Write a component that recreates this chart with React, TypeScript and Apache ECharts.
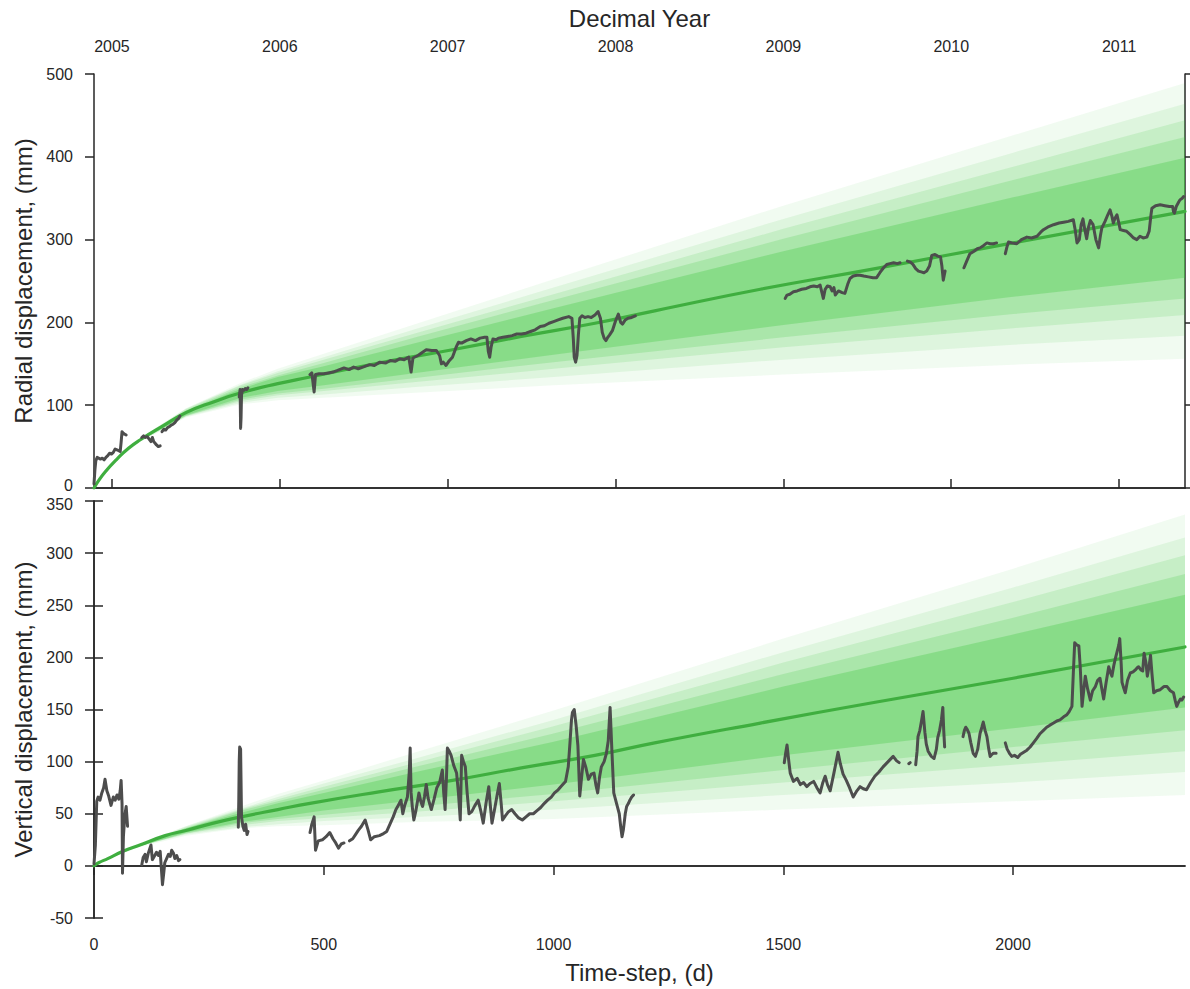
import { useEffect, useRef } from 'react';
import * as echarts from 'echarts';

// ---------- axes ----------
const START_YEAR = 2004.893; // decimal year of time-step 0
const DAY_MAX = 2374;
const yearTicks = [2005, 2006, 2007, 2008, 2009, 2010, 2011];
const dayTicks = [0, 500, 1000, 1500, 2000];

// ---------- model mean curves ----------
const radialMeanT = [0, 10, 25, 50, 75, 100, 150, 200, 260, 320, 400, 470, 620, 780, 930, 1090, 1220, 1450, 1700, 2000, 2374];
const radialMean = [0, 9, 20, 35, 48, 58, 75, 91, 104, 115, 126, 134, 151, 167, 183, 199, 214, 240, 265, 296, 334];
const verticalMeanT = [0, 10, 30, 63, 100, 155, 200, 260, 320, 400, 470, 620, 780, 930, 1090, 1220, 1450, 1700, 2000, 2374];
const verticalMean = [0, 3, 7, 14, 20, 29, 34, 41, 47, 54, 60, 71, 82, 94, 106, 118, 137, 157, 180, 210];

// ---------- ensemble envelopes (outer -> core) ----------
const fanT = [0, 50, 100, 200, 320, 400, 500, 700, 1000, 1500, 2000, 2374];
const radialB1U = [0, 36, 60, 96, 127, 144, 162, 198, 252, 341, 426, 489];
const radialB1L = [0, 34, 56, 85, 101, 106, 109, 115, 124, 137, 149, 156];
const radialB2U = [0, 36, 60, 96, 125, 141, 158, 192, 242, 325, 405, 464];
const radialB2L = [0, 34, 56, 86, 103, 109, 113, 122, 134, 155, 173, 184];
const radialB3U = [0, 36, 59, 95, 124, 139, 155, 187, 234, 313, 388, 444];
const radialB3L = [0, 34, 57, 87, 105, 112, 117, 128, 144, 170, 193, 209];
const radialB4U = [0, 35, 59, 94, 122, 136, 151, 182, 227, 301, 372, 424];
const radialB4L = [0, 35, 57, 87, 107, 114, 120, 133, 152, 182, 210, 229];
const radialB5U = [0, 35, 59, 93, 120, 134, 147, 175, 217, 286, 351, 399];
const radialB5L = [0, 35, 57, 88, 109, 117, 124, 139, 161, 197, 231, 254];

const verticalB1U = [0, 12, 22, 38, 57, 69, 82, 109, 149, 218, 285, 337];
const verticalB1L = [0, 10, 18, 29, 36, 38, 39, 42, 45, 54, 62, 68];
const verticalB2U = [0, 12, 21, 38, 55, 66, 79, 103, 140, 205, 267, 315];
const verticalB2L = [0, 10, 19, 30, 37, 40, 43, 47, 54, 68, 80, 90];
const verticalB3U = [0, 11, 21, 37, 54, 64, 76, 99, 134, 195, 253, 298];
const verticalB3L = [0, 11, 19, 31, 39, 43, 46, 52, 62, 80, 97, 110];
const verticalB4U = [0, 11, 21, 36, 53, 62, 73, 95, 127, 184, 238, 280];
const verticalB4L = [0, 11, 19, 31, 41, 45, 49, 57, 69, 92, 114, 130];
const verticalB5U = [0, 11, 21, 36, 51, 60, 70, 90, 119, 172, 222, 260];
const verticalB5L = [0, 11, 19, 32, 42, 47, 53, 63, 78, 106, 132, 152];

const bandAlphas = [0.07, 0.1, 0.15, 0.2, 0.3];

// ---------- observed radial displacement (segments separated by gaps) ----------
const radialObs: number[][][] = [
  [[0, 5], [2, 22], [4, 33], [7, 37], [10, 36], [14, 35], [18, 36], [22, 34], [26, 37], [30, 39], [34, 42], [38, 41], [42, 43], [46, 47], [50, 46], [54, 45], [57, 44], [59, 55], [61, 68], [64, 66], [67, 65], [70, 64]],
  [[104, 61], [108, 63], [112, 61], [116, 62], [120, 59], [124, 56], [127, 61], [130, 56], [133, 54], [136, 52], [140, 50], [144, 51]],
  [[148, 68], [152, 71], [156, 70], [160, 73], [164, 74], [168, 76], [172, 77], [176, 79], [180, 82], [184, 84], [187, 87]],
  [[316, 110], [318, 119], [319, 72], [320, 85], [321, 112], [323, 119], [326, 118], [329, 120], [332, 119], [335, 121]],
  [[470, 137], [474, 139], [479, 116], [482, 137], [490, 138], [500, 138], [510, 139], [520, 140], [530, 142], [544, 145], [555, 143], [565, 146], [575, 144], [585, 146], [600, 149], [610, 148], [622, 152], [635, 151], [645, 154], [655, 153], [665, 156], [675, 155], [685, 158], [690, 140], [694, 157], [705, 160], [715, 164], [723, 167], [735, 166], [745, 166], [752, 160], [756, 150], [760, 152], [766, 148], [772, 153], [780, 158], [788, 170], [793, 176], [800, 175], [810, 178], [820, 180], [830, 178], [840, 181], [850, 182], [855, 182], [858, 165], [861, 158], [864, 170], [868, 180], [875, 179], [880, 181], [890, 182], [900, 183], [910, 184], [920, 186], [930, 186], [940, 187], [950, 189], [960, 191], [971, 195], [980, 196], [990, 199], [1000, 201], [1010, 203], [1020, 205], [1033, 207], [1040, 205], [1043, 180], [1045, 158], [1048, 152], [1051, 160], [1054, 185], [1057, 205], [1062, 208], [1068, 206], [1075, 207], [1082, 206], [1090, 209], [1097, 213], [1102, 205], [1106, 188], [1110, 181], [1114, 178], [1118, 182], [1122, 185], [1128, 190], [1135, 202], [1141, 210], [1146, 200], [1150, 198], [1156, 203], [1162, 205], [1170, 206], [1178, 208]],
  [[1504, 229], [1508, 233], [1514, 234], [1522, 237], [1530, 238], [1540, 240], [1550, 241], [1558, 243], [1566, 244], [1574, 243], [1580, 245], [1584, 236], [1587, 229], [1591, 240], [1596, 244], [1602, 243], [1606, 238], [1610, 242], [1613, 233], [1620, 238], [1628, 236], [1634, 235], [1640, 246], [1645, 253], [1652, 256], [1660, 257], [1667, 257], [1675, 256], [1685, 255], [1695, 254], [1703, 254], [1710, 260], [1718, 266], [1725, 270], [1732, 271], [1740, 272], [1748, 271], [1754, 272]],
  [[1770, 274], [1776, 273], [1782, 270], [1788, 265], [1794, 262], [1800, 261], [1806, 260], [1812, 262], [1818, 268], [1823, 281], [1830, 282], [1836, 280], [1842, 279], [1845, 268], [1848, 251], [1852, 262]],
  [[1893, 266], [1899, 274], [1906, 283], [1915, 286], [1922, 289], [1928, 290], [1936, 293], [1943, 296], [1950, 295], [1957, 295], [1964, 296]],
  [[1983, 283], [1987, 292], [1990, 297], [1998, 296], [2008, 295], [2018, 300], [2030, 303], [2040, 302], [2052, 304], [2060, 309], [2066, 312], [2075, 315], [2088, 318], [2100, 320], [2110, 321], [2120, 322], [2131, 324], [2135, 312], [2139, 296], [2144, 300], [2148, 318], [2152, 325], [2156, 312], [2160, 301], [2164, 315], [2168, 323], [2174, 318], [2180, 300], [2186, 290], [2190, 305], [2193, 314], [2200, 322], [2206, 330], [2211, 336], [2215, 328], [2218, 320], [2222, 326], [2226, 330], [2230, 320], [2233, 312], [2240, 311], [2247, 310], [2255, 306], [2262, 302], [2269, 300], [2276, 304], [2283, 302], [2291, 303], [2296, 310], [2300, 330], [2302, 338], [2310, 341], [2320, 342], [2330, 341], [2340, 340], [2347, 340], [2349, 334], [2351, 332], [2355, 340], [2360, 345], [2363, 348], [2368, 350], [2371, 352]],
];

// ---------- observed vertical displacement ----------
const verticalObs: number[][][] = [
  [[0, 2], [3, 20], [6, 62], [9, 66], [13, 63], [17, 70], [21, 75], [24, 83], [28, 72], [32, 67], [37, 58], [42, 66], [46, 63], [50, 68], [54, 64], [57, 72], [59, 82], [61, 60], [62, -7], [64, 28], [67, 48], [70, 57], [73, 38]],
  [[104, 1], [107, 8], [111, 11], [114, 4], [118, 12], [121, 16], [124, 20], [127, 6], [131, 9], [136, 13], [140, 10], [144, 14], [149, -18], [152, -6], [154, 3], [158, 7], [162, 11], [166, 9], [169, 15], [173, 12], [176, 7], [180, 10], [184, 5], [187, 6]],
  [[314, 37], [315, 62], [316, 100], [317, 114], [319, 112], [320, 80], [321, 47], [324, 38], [327, 34], [330, 40], [333, 30], [335, 33]],
  [[470, 32], [474, 40], [479, 47], [482, 15], [488, 24], [497, 25], [505, 28], [513, 32], [520, 26], [526, 22], [532, 17], [538, 21], [544, 22]],
  [[556, 24], [563, 26], [569, 30], [575, 34], [582, 38], [590, 44], [596, 35], [602, 25], [610, 28], [621, 29], [630, 31], [637, 33], [645, 41], [651, 47], [657, 54], [662, 58], [668, 63], [672, 50], [676, 58], [682, 66], [686, 90], [688, 113], [690, 70], [693, 55], [696, 44], [700, 52], [707, 70], [711, 62], [715, 57], [719, 66], [723, 78], [727, 65], [734, 54], [740, 64], [746, 75], [752, 80], [758, 92], [761, 70], [764, 54], [767, 85], [769, 113], [773, 110], [777, 106], [783, 96], [789, 89], [793, 70], [797, 44], [800, 106], [804, 100], [808, 95], [812, 70], [816, 50], [822, 52], [829, 58], [836, 63], [842, 52], [847, 41], [853, 60], [859, 76], [862, 60], [866, 41], [872, 55], [878, 70], [882, 79], [886, 60], [889, 44], [895, 48], [902, 52], [909, 54], [916, 50], [924, 46], [932, 44], [940, 47], [948, 50], [956, 50], [964, 53], [972, 56], [980, 60], [987, 63], [995, 66], [1002, 70], [1010, 73], [1018, 77], [1026, 81], [1032, 95], [1036, 120], [1039, 140], [1041, 147], [1045, 150], [1049, 135], [1053, 115], [1057, 67], [1061, 85], [1065, 102], [1070, 95], [1076, 83], [1082, 88], [1088, 89], [1092, 78], [1096, 70], [1100, 85], [1104, 95], [1110, 100], [1115, 108], [1119, 120], [1123, 152], [1127, 110], [1131, 70], [1137, 60], [1143, 50], [1146, 38], [1149, 28], [1152, 35], [1156, 50], [1159, 57], [1163, 60], [1166, 63], [1170, 66], [1174, 68]],
  [[1502, 99], [1505, 108], [1508, 116], [1512, 100], [1515, 89], [1522, 81], [1530, 84], [1537, 78], [1544, 80], [1551, 76], [1558, 79], [1566, 81], [1573, 75], [1580, 70], [1586, 80], [1591, 86], [1596, 78], [1602, 72], [1610, 89], [1615, 100], [1619, 109], [1624, 98], [1630, 88], [1637, 82], [1644, 75], [1652, 66], [1660, 72], [1667, 76], [1674, 74], [1681, 73], [1690, 80], [1699, 86], [1708, 90], [1717, 95], [1728, 100], [1739, 105], [1746, 101], [1752, 99]],
  [[1773, 98], [1776, 99]],
  [[1788, 97], [1791, 110], [1793, 124], [1797, 130], [1801, 140], [1804, 148], [1808, 128], [1811, 117], [1815, 110], [1822, 105], [1828, 103], [1833, 112], [1836, 123], [1840, 130], [1844, 140], [1847, 152], [1849, 130], [1851, 114]],
  [[1891, 124], [1894, 130], [1897, 133], [1900, 131], [1904, 127], [1908, 118], [1913, 108], [1918, 105], [1923, 112], [1928, 127], [1932, 133], [1935, 138], [1939, 130], [1943, 124], [1947, 112], [1950, 105], [1954, 107], [1957, 108], [1963, 108]],
  [[1983, 118], [1987, 112], [1992, 108], [1997, 105], [2003, 106], [2010, 104], [2016, 107], [2023, 109], [2030, 111], [2037, 114], [2044, 118], [2051, 122], [2059, 127], [2066, 130], [2073, 133], [2080, 135], [2088, 137], [2095, 139], [2102, 140], [2110, 143], [2117, 145], [2122, 148], [2128, 153], [2131, 185], [2134, 214], [2138, 212], [2143, 211], [2146, 191], [2150, 153], [2154, 170], [2157, 182], [2162, 170], [2168, 159], [2173, 168], [2179, 172], [2184, 178], [2189, 180], [2193, 170], [2197, 160], [2202, 175], [2208, 191], [2212, 185], [2215, 182], [2219, 192], [2222, 198], [2226, 205], [2230, 212], [2232, 218], [2235, 195], [2237, 176], [2241, 170], [2244, 166], [2249, 178], [2255, 185], [2261, 186], [2266, 188], [2270, 190], [2273, 191], [2278, 188], [2282, 187], [2285, 204], [2289, 195], [2292, 182], [2296, 192], [2299, 202], [2302, 185], [2306, 166], [2312, 168], [2320, 169], [2328, 172], [2335, 172], [2342, 168], [2349, 166], [2353, 158], [2356, 153], [2360, 157], [2364, 160], [2367, 159], [2371, 162]],
];

// ---------- styling ----------
const INK = '#262626';
const FONT = 'Liberation Sans, Arial, Helvetica, sans-serif';
const FAN_RGB = '60,200,60';
const MEAN_COLOR = '#3fae3f';
const OBS_COLOR = '#4d4d4d';

function bandSeries(xi: number, yi: number, upper: number[], lower: number[], alpha: number) {
  return {
    type: 'custom',
    xAxisIndex: xi,
    yAxisIndex: yi,
    silent: true,
    clip: true,
    z: 1,
    data: [[fanT[0], upper[0]]],
    renderItem: (_params: any, api: any) => {
      const pts: number[][] = [];
      for (let i = 0; i < fanT.length; i++) pts.push(api.coord([fanT[i], upper[i]]));
      for (let i = fanT.length - 1; i >= 0; i--) pts.push(api.coord([fanT[i], lower[i]]));
      return {
        type: 'polygon',
        shape: { points: pts },
        style: { fill: `rgba(${FAN_RGB},${alpha})`, stroke: 'none' },
      };
    },
  };
}

function lineSeries(xi: number, yi: number, data: number[][], color: string, width: number, z: number, smooth = false) {
  return {
    type: 'line',
    xAxisIndex: xi,
    yAxisIndex: yi,
    data,
    symbol: 'none',
    showSymbol: false,
    smooth,
    silent: true,
    z,
    lineStyle: { color, width, cap: 'round', join: 'round' },
  };
}

const zip = (t: number[], v: number[]) => t.map((x, i) => [x, v[i]]);

const axisLine = { show: true, lineStyle: { color: INK, width: 1.5 } };
const tickStyle = { show: true, length: 9, inside: false, lineStyle: { color: INK, width: 1.5 } };
const labelStyle = { color: INK, fontSize: 16, fontFamily: FONT, lineHeight: 12 };
const nameStyle = { color: INK, fontSize: 24, fontFamily: FONT };

// the top panel's lowest label and the bottom panel's highest label sit close together:
// nudge them apart slightly via rich-text padding
const richNudge = {
  up: { color: INK, fontSize: 16, fontFamily: FONT, lineHeight: 12, padding: [0, 0, 6, 0] },
  down: { color: INK, fontSize: 16, fontFamily: FONT, lineHeight: 12, padding: [6, 0, 0, 0] },
};

function buildOption() {
  const radialBands = [
    [radialB1U, radialB1L], [radialB2U, radialB2L], [radialB3U, radialB3L], [radialB4U, radialB4L], [radialB5U, radialB5L],
  ];
  const verticalBands = [
    [verticalB1U, verticalB1L], [verticalB2U, verticalB2L], [verticalB3U, verticalB3L], [verticalB4U, verticalB4L], [verticalB5U, verticalB5L],
  ];
  const series: any[] = [];
  radialBands.forEach(([u, l], i) => series.push(bandSeries(0, 0, u, l, bandAlphas[i])));
  verticalBands.forEach(([u, l], i) => series.push(bandSeries(2, 2, u, l, bandAlphas[i])));
  series.push(lineSeries(0, 0, zip(radialMeanT, radialMean), MEAN_COLOR, 3.2, 3, true));
  series.push(lineSeries(2, 2, zip(verticalMeanT, verticalMean), MEAN_COLOR, 3.2, 3, true));
  radialObs.forEach((seg) => series.push(lineSeries(0, 0, seg, OBS_COLOR, 3, 5)));
  verticalObs.forEach((seg) => series.push(lineSeries(2, 2, seg, OBS_COLOR, 3, 5)));

  return {
    animation: false,
    backgroundColor: '#ffffff',
    textStyle: { fontFamily: FONT },
    grid: [
      { left: 94, top: 74, width: 1091, height: 414 },
      { left: 94, top: 501, width: 1091, height: 417 },
    ],
    xAxis: [
      {
        gridIndex: 0, type: 'value', min: 0, max: DAY_MAX, position: 'bottom',
        axisLine, axisTick: { show: false }, axisLabel: { show: false }, splitLine: { show: false },
      },
      {
        gridIndex: 0, type: 'value', position: 'top',
        min: START_YEAR, max: START_YEAR + DAY_MAX / 365.25,
        name: 'Decimal Year', nameLocation: 'middle', nameGap: 44, nameTextStyle: nameStyle,
        axisLine,
        axisTick: { ...tickStyle, customValues: yearTicks },
        axisLabel: { ...labelStyle, customValues: yearTicks, margin: 22, formatter: (v: number) => String(Math.round(v)) },
        splitLine: { show: false },
      },
      {
        gridIndex: 1, type: 'value', min: 0, max: DAY_MAX, position: 'bottom',
        name: 'Time-step, (d)', nameLocation: 'middle', nameGap: 42, nameTextStyle: nameStyle,
        axisLine,
        axisTick: { ...tickStyle, customValues: dayTicks },
        axisLabel: { ...labelStyle, customValues: dayTicks, margin: 20, formatter: (v: number) => String(v) },
        splitLine: { show: false },
      },
      {
        gridIndex: 1, type: 'value', min: 0, max: DAY_MAX, position: 'top',
        axisLine, axisTick: { show: false }, axisLabel: { show: false }, splitLine: { show: false },
      },
    ],
    yAxis: [
      {
        gridIndex: 0, type: 'value', min: 0, max: 500, interval: 100, position: 'left',
        name: 'Radial displacement, (mm)', nameLocation: 'middle', nameGap: 58, nameTextStyle: nameStyle,
        axisLine, axisTick: tickStyle,
        axisLabel: {
          ...labelStyle, margin: 21, rich: richNudge,
          formatter: (v: number) => (v === 0 ? '{up|0}' : String(v)),
        },
        splitLine: { show: false },
      },
      {
        gridIndex: 0, type: 'value', min: 0, max: 500, interval: 100, position: 'right',
        axisLine, axisTick: tickStyle, axisLabel: { show: false }, splitLine: { show: false },
      },
      {
        gridIndex: 1, type: 'value', min: -50, max: 350, interval: 50, position: 'left',
        name: 'Vertical displacement, (mm)', nameLocation: 'middle', nameGap: 58, nameTextStyle: nameStyle,
        axisLine, axisTick: tickStyle,
        axisLabel: {
          ...labelStyle, margin: 21, rich: richNudge,
          formatter: (v: number) => (v === 350 ? '{down|350}' : String(v)),
        },
        splitLine: { show: false },
      },
      {
        gridIndex: 1, type: 'value', min: -50, max: 350, interval: 50, position: 'right',
        axisLine, axisTick: tickStyle, axisLabel: { show: false }, splitLine: { show: false },
      },
    ],
    series,
  };
}

export default function App() {
  const ref = useRef<HTMLDivElement>(null);
  useEffect(() => {
    if (!ref.current) return;
    const chart = echarts.init(ref.current, null, { renderer: 'svg' });
    chart.setOption(buildOption() as any);
    return () => chart.dispose();
  }, []);
  return (
    <div
      ref={ref}
      style={{ position: 'absolute', left: 0, top: 0, width: 1190, height: 989, background: '#fff' }}
    />
  );
}
